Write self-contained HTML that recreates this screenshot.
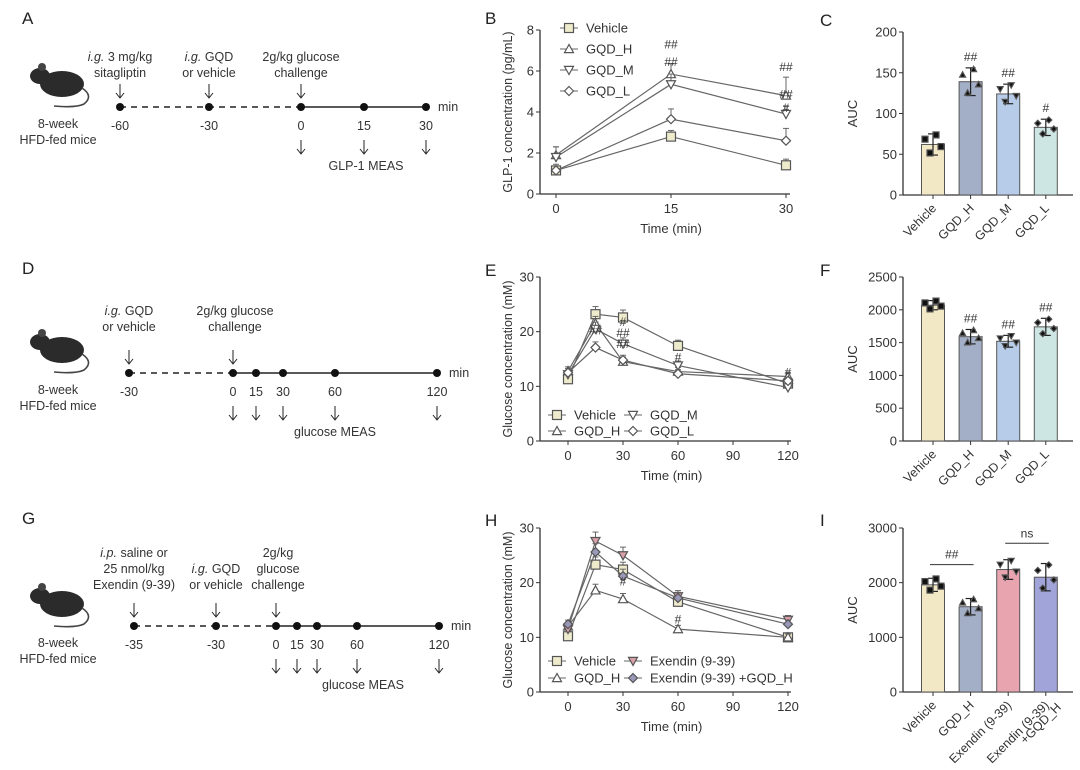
<!DOCTYPE html>
<html><head><meta charset="utf-8"><style>
body{margin:0;background:#fff;}
svg{display:block;font-family:"Liberation Sans",Arial,sans-serif;}
</style></head><body>
<svg id="fig" width="1080" height="770" viewBox="0 0 1080 770" xmlns="http://www.w3.org/2000/svg"></svg>
<script>
// ---- Panel B data (GLP-1) ----
const bTimes=[0,15,30];
const bVehicle=[1.15,2.8,1.4];
const bGqdH=[1.9,5.85,4.8];
const bGqdM=[1.8,5.35,3.9];
const bGqdL=[1.15,3.65,2.6];
const bErr=[[0.2,0.3,0.3],[0.4,0.5,0.9],[0.5,0.5,0.4],[0.3,0.5,0.6]];
const bYTicks=[0,2,4,6,8];
// ---- Panel C ----
const cCats=["Vehicle","GQD_H","GQD_M","GQD_L"];
const cVals=[62,139,124,83];
const cErr=[13,17,12,10];
const cYTicks=[0,50,100,150,200];
// ---- Panel E ----
const eTimes=[0,15,30,60,120];
const eVehicle=[11.3,23.2,22.6,17.4,10.5];
const eGqdH=[12.8,21.5,14.5,12.7,11.8];
const eGqdM=[12.2,20.5,17.8,13.8,9.8];
const eGqdL=[12.5,17.1,14.8,12.3,11.0];
const eYTicks=[0,10,20,30];
const xTicks120=[0,30,60,90,120];
// ---- Panel F ----
const fVals=[2070,1590,1520,1740];
const fErr=[70,110,90,130];
const fYTicks=[0,500,1000,1500,2000,2500];
// ---- Panel H ----
const hVehicle=[10.2,23.3,22.4,16.5,10.0];
const hGqdH=[12.0,18.6,17.0,11.5,10.0];
const hExendin=[11.5,27.6,25.0,17.5,13.2];
const hExGqd=[12.4,25.6,21.2,17.2,12.4];
const hYTicks=[0,10,20,30];
// ---- Panel I ----
const iCats=["Vehicle","GQD_H","Exendin (9-39)","Exendin (9-39)|+GQD_H"];
const iVals=[1960,1560,2240,2100];
const iErr=[120,150,180,250];
const iYTicks=[0,1000,2000,3000];

const NS="http://www.w3.org/2000/svg";
const svg=document.getElementById('fig');
function el(tag,attrs,parent,text){const e=document.createElementNS(NS,tag);for(const k in attrs)e.setAttribute(k,attrs[k]);if(text!==undefined)e.textContent=text;(parent||svg).appendChild(e);return e;}
function grp(name){const g=el('g',{});


return g;}
const INK="#333";

function marker(g,type,x,y,fill,s){
  s=s||4.5;let m;
  if(type==='sq')m=el('rect',{x:x-s,y:y-s,width:2*s,height:2*s,fill:fill||'#eeeacc',stroke:'#555','stroke-width':1.2},g);
  else if(type==='up')m=el('polygon',{points:`${x},${y-s} ${x-s},${y+s*0.8} ${x+s},${y+s*0.8}`,fill:fill||'#fff',stroke:'#555','stroke-width':1.2},g);
  else if(type==='dn')m=el('polygon',{points:`${x},${y+s} ${x-s},${y-s*0.8} ${x+s},${y-s*0.8}`,fill:fill||'#fff',stroke:'#555','stroke-width':1.2},g);
  else m=el('polygon',{points:`${x},${y-s} ${x+s},${y} ${x},${y+s} ${x-s},${y}`,fill:fill||'#fff',stroke:'#555','stroke-width':1.2},g);
  
  
}

function lineChart(opt){
  const g=grp(opt.name);
  const sx=v=>opt.x0+(v-opt.tmin)*(opt.x1-opt.x0)/(opt.tmax-opt.tmin);
  const sy=v=>opt.yb-(v-0)*(opt.yb-opt.yt)/(opt.ymax);
  el('line',{x1:opt.ax,y1:opt.yt,x2:opt.ax,y2:opt.yb,stroke:INK,'stroke-width':1.3},g);
  el('line',{x1:opt.ax,y1:opt.yb,x2:opt.xend,y2:opt.yb,stroke:INK,'stroke-width':1.3},g);
  opt.yTicks.forEach(t=>{const y=sy(t);el('line',{x1:opt.ax-4,y1:y,x2:opt.ax,y2:y,stroke:INK},g);
    const tx=el('text',{x:opt.ax-6,y:y+4.5,'font-size':13,'text-anchor':'end',fill:'#333'},g,t);
    });
  opt.xTicks.forEach(t=>{const x=sx(t);el('line',{x1:x,y1:opt.yb,x2:x,y2:opt.yb+4,stroke:INK},g);
    const tx=el('text',{x:x,y:opt.yb+19,'font-size':13,'text-anchor':'middle',fill:'#333'},g,t);
    });
  const xt=el('text',{x:(opt.ax+opt.xend)/2+6,y:opt.yb+39,'font-size':13,'text-anchor':'middle',fill:'#333'},g,'Time (min)');
  
  const yc=(opt.yt+opt.yb)/2,lx=opt.ax-28;
  const yt=el('text',{x:lx,y:yc,'font-size':12.5,'text-anchor':'middle',fill:'#333',transform:`rotate(-90 ${lx} ${yc})`},g,opt.ylabel);
  
  opt.series.forEach((s,si)=>{
    const pts=s.vals.map((v,i)=>[sx(opt.times[i]),sy(v)]);
    s.vals.forEach((v,i)=>{const e=(s.err?s.err[i]:0.06*v);const x=sx(opt.times[i]);
      el('line',{x1:x,y1:sy(v),x2:x,y2:sy(v+e),stroke:'#666'},g);
      el('line',{x1:x-3,y1:sy(v+e),x2:x+3,y2:sy(v+e),stroke:'#666'},g);});
    const p=el('polyline',{points:pts.map(p=>p.join(',')).join(' '),fill:'none',stroke:'#666','stroke-width':1.2},g);
    
    pts.forEach(q=>marker(g,s.m,q[0],q[1],s.fill));
  });
  (opt.annots||[]).forEach(a=>el('text',{x:sx(a[0]),y:sy(a[1]),'font-size':12,'text-anchor':'middle',fill:'#333'},g,a[2]));
  opt.legend.forEach(l=>{
    el('line',{x1:l.x,y1:l.y,x2:l.x+18,y2:l.y,stroke:'#666'},g);marker(g,l.m,l.x+9,l.y,l.fill);
    const t=el('text',{x:l.x+26,y:l.y+4.5,'font-size':13,fill:'#333'},g,l.t);
    });
}

function barChart(opt){
  const g=grp(opt.name);
  const sy=v=>opt.yb-v*(opt.yb-opt.yt)/opt.ymax;
  el('line',{x1:opt.ax,y1:opt.yt,x2:opt.ax,y2:opt.yb,stroke:INK,'stroke-width':1.3},g);
  el('line',{x1:opt.ax,y1:opt.yb,x2:opt.xend,y2:opt.yb,stroke:INK,'stroke-width':1.3},g);
  opt.yTicks.forEach(t=>{const y=sy(t);el('line',{x1:opt.ax-4,y1:y,x2:opt.ax,y2:y,stroke:INK},g);
    const tx=el('text',{x:opt.ax-6,y:y+4.5,'font-size':13,'text-anchor':'end',fill:'#333'},g,t);
    });
  const yc=(opt.yt+opt.yb)/2,lx=opt.ax-46;
  const yt=el('text',{x:lx,y:yc,'font-size':13,'text-anchor':'middle',fill:'#333',transform:`rotate(-90 ${lx} ${yc})`},g,'AUC');
  
  const step=37.6;
  const centers=opt.vals.map((v,i)=>opt.ax+30+step*i);
  opt.vals.forEach((v,i)=>{
    const cx=centers[i];const w=23;
    const b=el('rect',{x:cx-w/2,y:sy(v),width:w,height:opt.yb-sy(v),fill:opt.colors[i],stroke:'#555','stroke-width':1},g);
    
    const e=opt.err[i];
    el('line',{x1:cx,y1:sy(v-e),x2:cx,y2:sy(v+e),stroke:'#222','stroke-width':1.2},g);
    [v-e,v+e].forEach(q=>el('line',{x1:cx-5,y1:sy(q),x2:cx+5,y2:sy(q),stroke:'#222','stroke-width':1.2},g));
    [-8,-3,3,8].forEach((d,k)=>{const yy=sy(v+e*[0.5,-0.8,0.9,-0.2][k]);marker(g,opt.mk[i],cx+d,yy,'#111',3);});
    el('line',{x1:cx,y1:opt.yb,x2:cx,y2:opt.yb+4,stroke:INK},g);
    const lines=opt.cats[i].split('|');
    lines.forEach((ln,li)=>{const tx0=cx+4+li*12,ty0=opt.yb+14+li*2;
      const tx=el('text',{x:tx0,y:ty0,'font-size':12.5,'text-anchor':'end',fill:'#333',transform:`rotate(-45 ${tx0} ${ty0})`},g,ln);
      });
    if(opt.sig&&opt.sig[i])el('text',{x:cx,y:sy(v+e)-7,'font-size':12,'text-anchor':'middle',fill:'#333'},g,opt.sig[i]);
  });
  return {g,sy,centers};
}

// Panel letters
[["A",22,24],["B",485,24],["C",820,26],["D",22,274],["E",485,276],["F",820,276],["G",22,524],["H",485,526],["I",820,526]].forEach(p=>{
  const t=el('text',{x:p[1],y:p[2],'font-size':17,fill:'#222'},svg,p[0]);
  });

lineChart({name:'chart-b-glp1',ax:540,yt:30,yb:194,ymax:8,x0:556,x1:786,tmin:0,tmax:30,xend:790,times:bTimes,
 yTicks:bYTicks,xTicks:bTimes,ylabel:'GLP-1 concentration (pg/mL)',
 series:[{vals:bVehicle,m:'sq',fill:'#eeeacc',err:bErr[0]},{vals:bGqdH,m:'up',err:bErr[1]},{vals:bGqdM,m:'dn',err:bErr[2]},{vals:bGqdL,m:'di',err:bErr[3]}],
 annots:[[15,7.1,'##'],[15,6.25,'##'],[30,6.0,'##'],[30,4.65,'##'],[30,4.0,'#']],
 legend:[{x:560,y:28,m:'sq',t:'Vehicle',fill:'#eeeacc'},{x:560,y:49,m:'up',t:'GQD_H'},{x:560,y:70,m:'dn',t:'GQD_M'},{x:560,y:91,m:'di',t:'GQD_L'}]});

barChart({name:'chart-c-auc',ax:903,yt:32,yb:195,ymax:200,xend:1073,vals:cVals,err:cErr,cats:cCats,yTicks:cYTicks,
 colors:['#f3e8c6','#a3aec7','#b7cce8','#cde5e3'],mk:['sq','up','dn','di'],sig:[null,'##','##','#']});

lineChart({name:'chart-e-glucose',ax:540,yt:277,yb:441,ymax:30,x0:568,x1:788,tmin:0,tmax:120,xend:791,times:eTimes,
 yTicks:eYTicks,xTicks:xTicks120,ylabel:'Glucose concentration (mM)',
 series:[{vals:eVehicle,m:'sq',fill:'#eeeacc'},{vals:eGqdH,m:'up'},{vals:eGqdM,m:'dn'},{vals:eGqdL,m:'di'}],
 annots:[[15,19.5,'##'],[30,21,'#'],[30,19,'##'],[30,17,'##'],[60,14.5,'#'],[120,11.8,'#']],
 legend:[{x:548,y:415,m:'sq',t:'Vehicle',fill:'#eeeacc'},{x:548,y:431,m:'up',t:'GQD_H'},{x:624,y:415,m:'dn',t:'GQD_M'},{x:624,y:431,m:'di',t:'GQD_L'}]});

barChart({name:'chart-f-auc',ax:903,yt:277,yb:441,ymax:2500,xend:1073,vals:fVals,err:fErr,cats:cCats,yTicks:fYTicks,
 colors:['#f3e8c6','#a3aec7','#b7cce8','#cde5e3'],mk:['sq','up','dn','di'],sig:[null,'##','##','##']});

lineChart({name:'chart-h-glucose',ax:540,yt:528,yb:692,ymax:30,x0:568,x1:788,tmin:0,tmax:120,xend:791,times:eTimes,
 yTicks:hYTicks,xTicks:xTicks120,ylabel:'Glucose concentration (mM)',
 series:[{vals:hVehicle,m:'sq',fill:'#eeeacc'},{vals:hGqdH,m:'up'},{vals:hExendin,m:'dn',fill:'#d9a0aa'},{vals:hExGqd,m:'di',fill:'#9a98b8'}],
 annots:[[30,19.5,'#'],[60,12.5,'#']],
 legend:[{x:548,y:661,m:'sq',t:'Vehicle',fill:'#eeeacc'},{x:548,y:678,m:'up',t:'GQD_H'},{x:624,y:661,m:'dn',t:'Exendin (9-39)',fill:'#d9a0aa'},{x:624,y:678,m:'di',t:'Exendin (9-39) +GQD_H',fill:'#9a98b8'}]});

const ri=barChart({name:'chart-i-auc',ax:903,yt:528,yb:692,ymax:3000,xend:1073,vals:iVals,err:iErr,cats:iCats,yTicks:iYTicks,
 colors:['#f3e8c6','#a3aec7','#e8a5b0','#a0a4d8'],mk:['sq','up','dn','di'],sig:null});
el('line',{x1:ri.centers[0]-3,y1:ri.sy(2330),x2:ri.centers[1]+3,y2:ri.sy(2330),stroke:'#333'},ri.g);
el('text',{x:(ri.centers[0]+ri.centers[1])/2,y:ri.sy(2330)-6,'font-size':12,'text-anchor':'middle',fill:'#333'},ri.g,'##');
el('line',{x1:ri.centers[2]-3,y1:ri.sy(2720),x2:ri.centers[3]+3,y2:ri.sy(2720),stroke:'#333'},ri.g);
el('text',{x:(ri.centers[2]+ri.centers[3])/2,y:ri.sy(2720)-6,'font-size':12,'text-anchor':'middle',fill:'#333'},ri.g,'ns');

// ---- Schematics ----
function mouse(g,x,y){
  el('ellipse',{cx:x+28,cy:y+16,rx:22,ry:13,fill:'#2b2b2b'},g);
  el('ellipse',{cx:x+6,cy:y+8,rx:10,ry:8,fill:'#2b2b2b'},g);
  el('circle',{cx:x+8,cy:y-1,r:4,fill:'#444'},g);
  el('path',{d:`M${x+48},${y+20} q12,8 2,16 q-8,4 -30,2`,fill:'none',stroke:'#444','stroke-width':1.6},g);
}
function schematic(name,ty,pts,solidFrom,mouseY,labels,topTexts,bottomIdx,meas,measX){
  const g=grp(name);
  mouse(g,34,mouseY);
  el('text',{x:58,y:ty+21,'font-size':12.5,'text-anchor':'middle',fill:'#333'},g,'8-week');
  el('text',{x:58,y:ty+37,'font-size':12.5,'text-anchor':'middle',fill:'#333'},g,'HFD-fed mice');
  el('line',{x1:pts[0],y1:ty,x2:pts[solidFrom],y2:ty,stroke:'#222','stroke-width':1.6,'stroke-dasharray':'6,5'},g);
  el('line',{x1:pts[solidFrom],y1:ty,x2:pts[pts.length-1],y2:ty,stroke:'#222','stroke-width':1.6},g);
  pts.forEach((p,i)=>{el('circle',{cx:p,cy:ty,r:4,fill:'#111'},g);
    el('text',{x:p,y:ty+23,'font-size':12.5,'text-anchor':'middle',fill:'#333'},g,labels[i]);});
  el('text',{x:pts[pts.length-1]+12,y:ty+4,'font-size':12.5,fill:'#333'},g,'min');
  topTexts.forEach(t=>{
    t.lines.forEach((ln,li)=>{const tx=el('text',{x:t.x,y:t.y+li*16,'font-size':12.5,'text-anchor':'middle',fill:'#333'},g);
      if(ln.startsWith('i.')){const sp=ln.indexOf(' ');el('tspan',{'font-style':'italic'},tx,ln.slice(0,sp));el('tspan',{},tx,ln.slice(sp));}else tx.textContent=ln;});
    el('line',{x1:t.ax,y1:ty-23,x2:t.ax,y2:ty-9,stroke:'#222'},g);
    el('path',{d:`M${t.ax-4},${ty-14} L${t.ax},${ty-9} L${t.ax+4},${ty-14}`,fill:'none',stroke:'#222'},g);
  });
  bottomIdx.forEach(i=>{const x=pts[i];el('line',{x1:x,y1:ty+33,x2:x,y2:ty+47,stroke:'#222'},g);
    el('path',{d:`M${x-4},${ty+42} L${x},${ty+47} L${x+4},${ty+42}`,fill:'none',stroke:'#222'},g);});
  el('text',{x:measX,y:ty+63,'font-size':12.5,'text-anchor':'middle',fill:'#333'},g,meas);
}
schematic('schematic-a',107,[120,209,301,364,426],2,68,['-60','-30','0','15','30'],
 [{x:120,y:61,ax:120,lines:['i.g. 3 mg/kg','sitagliptin']},{x:209,y:61,ax:209,lines:['i.g. GQD','or vehicle']},{x:301,y:61,ax:301,lines:['2g/kg glucose','challenge']}],[2,3,4],'GLP-1 MEAS',366);
schematic('schematic-d',373,[129,233,256,283,335,437],1,334,['-30','0','15','30','60','120'],
 [{x:129,y:315,ax:129,lines:['i.g. GQD','or vehicle']},{x:235,y:315,ax:233,lines:['2g/kg glucose','challenge']}],[1,2,3,4,5],'glucose MEAS',335);
schematic('schematic-g',626,[134,216,276,297,317,357,439],2,588,['-35','-30','0','15','30','60','120'],
 [{x:134,y:557,ax:134,lines:['i.p. saline or','25 nmol/kg','Exendin (9-39)']},{x:216,y:573,ax:216,lines:['i.g. GQD','or vehicle']},{x:278,y:557,ax:276,lines:['2g/kg','glucose','challenge']}],[2,3,4,5,6],'glucose MEAS',363);
</script>
</body></html>
